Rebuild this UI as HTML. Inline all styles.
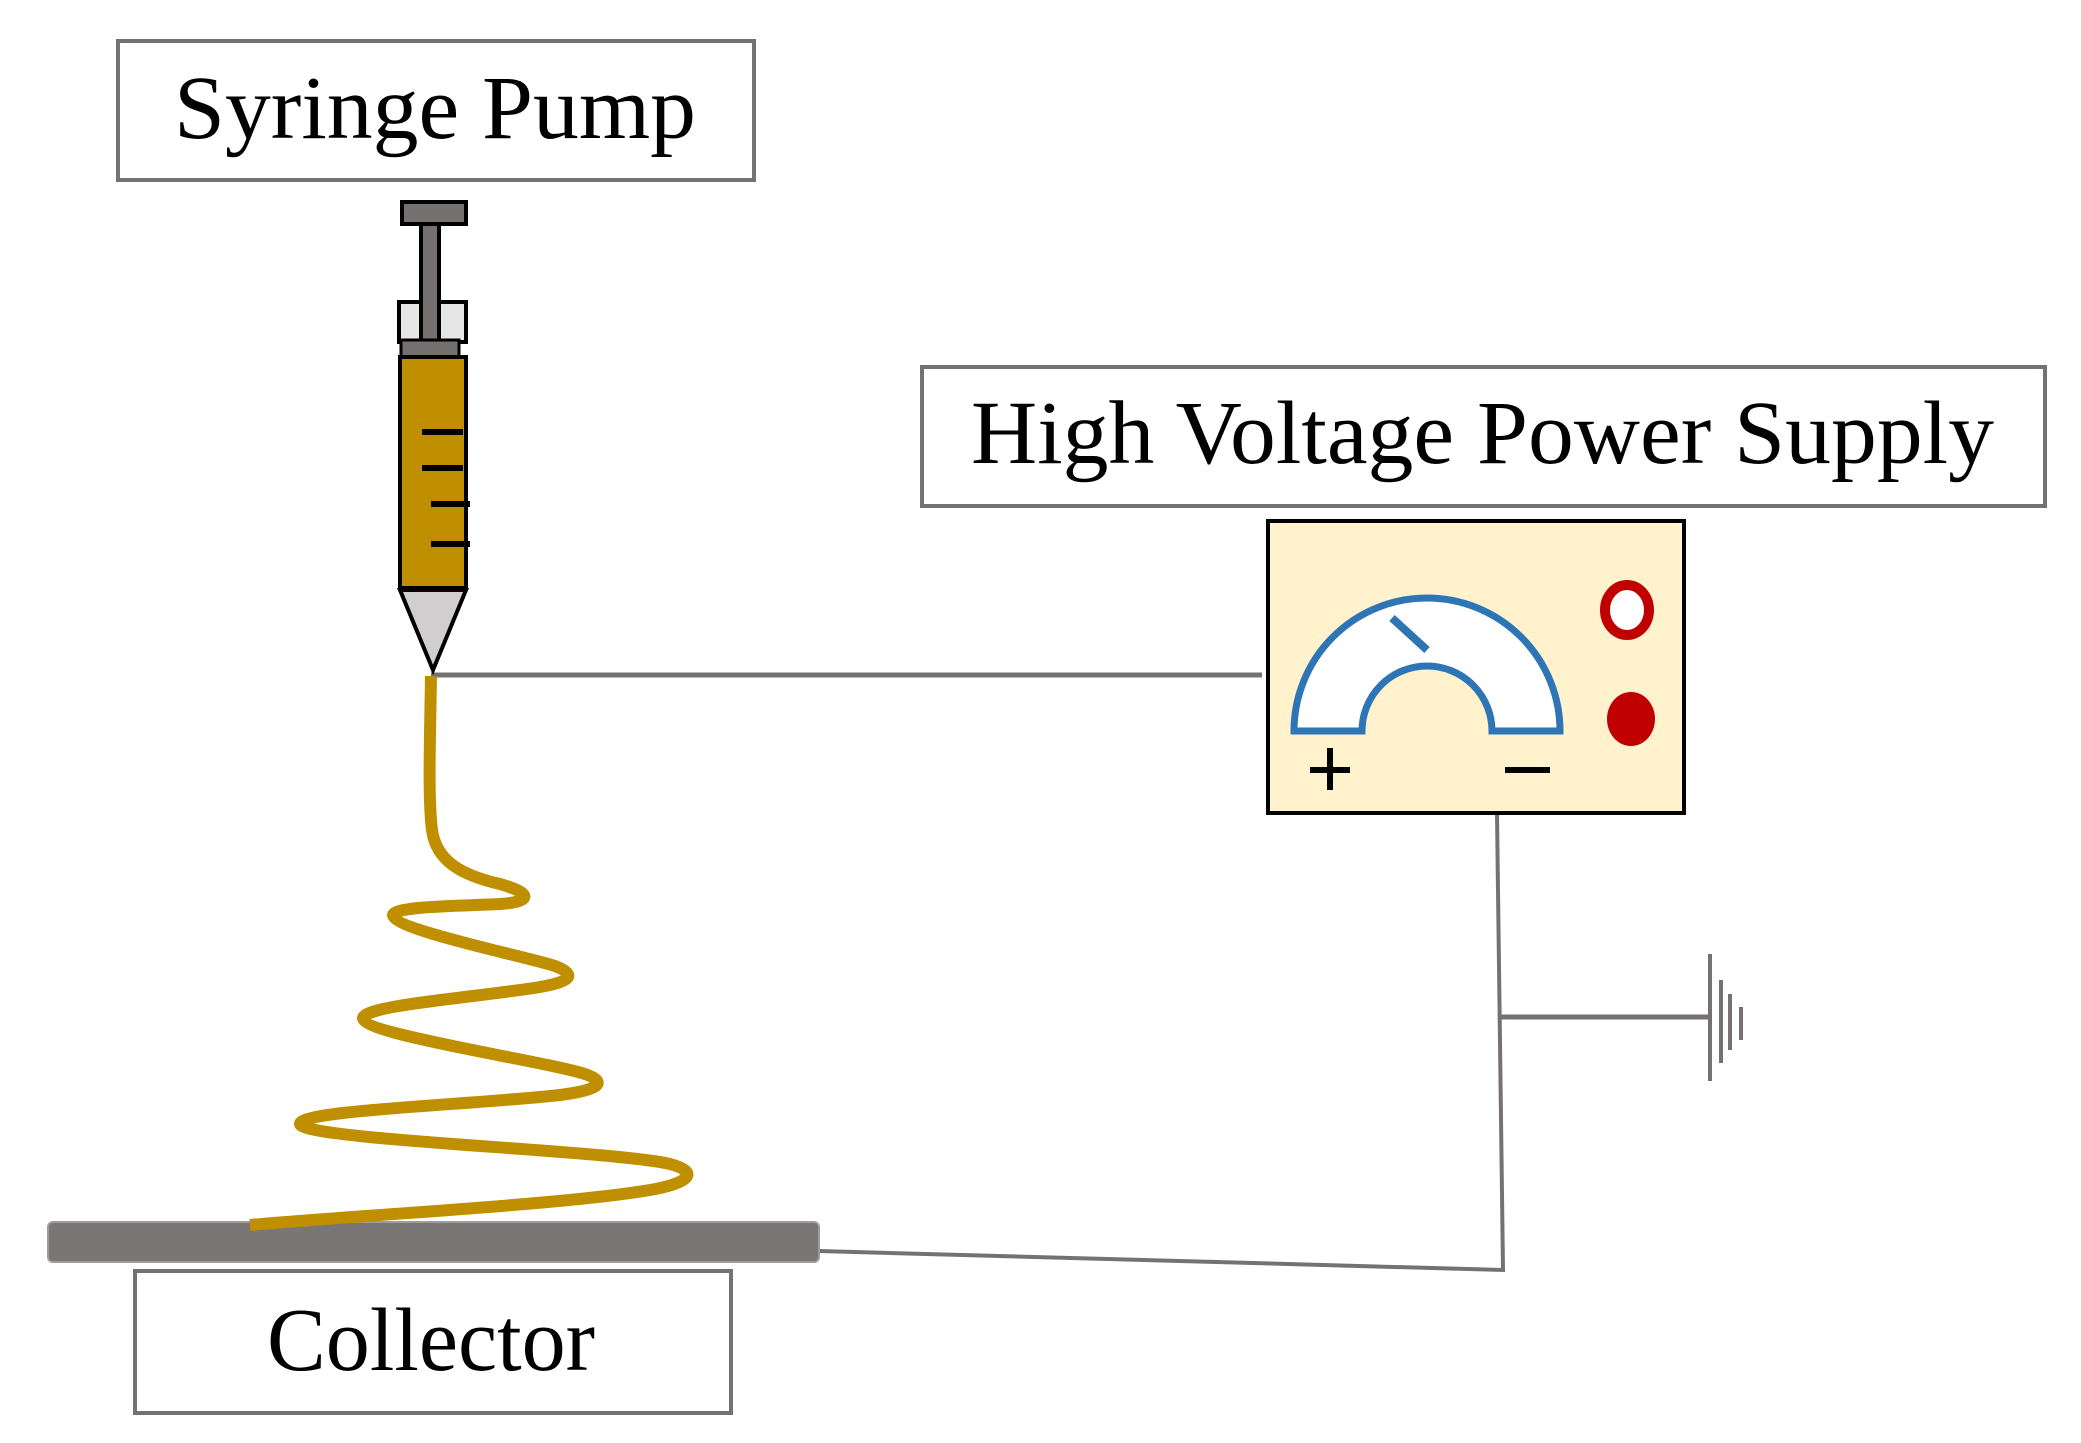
<!DOCTYPE html>
<html><head><meta charset="utf-8"><style>html,body{margin:0;padding:0;background:#fff}svg{display:block}</style></head>
<body>
<svg width="2081" height="1443" viewBox="0 0 2081 1443" xmlns="http://www.w3.org/2000/svg">
<rect x="0" y="0" width="2081" height="1443" fill="#fff"/>
<rect x="118" y="41" width="636" height="139" fill="#fff" stroke="#767171" stroke-width="4"/>
<text x="174" y="138" font-family="Liberation Serif, serif" font-size="90" textLength="522" lengthAdjust="spacingAndGlyphs" fill="#000">Syringe Pump</text>
<rect x="922" y="367" width="1123" height="139" fill="#fff" stroke="#767171" stroke-width="4"/>
<text x="971" y="463" font-family="Liberation Serif, serif" font-size="90" textLength="1023" lengthAdjust="spacingAndGlyphs" fill="#000">High Voltage Power Supply</text>
<rect x="135" y="1271" width="596" height="142" fill="#fff" stroke="#767171" stroke-width="4"/>
<text x="267" y="1370" font-family="Liberation Serif, serif" font-size="90" textLength="328" lengthAdjust="spacingAndGlyphs" fill="#000">Collector</text>
<line x1="431" y1="675" x2="1262" y2="675" stroke="#767171" stroke-width="5"/>
<polyline points="1497,814 1503,1270 819,1251" fill="none" stroke="#767171" stroke-width="4"/>
<line x1="1498" y1="1017" x2="1710" y2="1017" stroke="#767171" stroke-width="5"/>
<line x1="1710" y1="954" x2="1710" y2="1081" stroke="#767171" stroke-width="4"/>
<line x1="1721" y1="980" x2="1721" y2="1063" stroke="#767171" stroke-width="4"/>
<line x1="1730" y1="994" x2="1730" y2="1050" stroke="#767171" stroke-width="4"/>
<line x1="1741" y1="1007" x2="1741" y2="1040" stroke="#767171" stroke-width="4"/>
<rect x="48" y="1222" width="771" height="40" rx="5" fill="#7a7676" stroke="#a09c9c" stroke-width="2"/>
<rect x="402" y="202" width="64" height="22" fill="#767171" stroke="#000" stroke-width="4"/>
<rect x="399" y="302" width="67" height="40" fill="#e6e6e6" stroke="#000" stroke-width="4"/>
<rect x="421" y="224" width="18" height="118" fill="#767171" stroke="#000" stroke-width="4"/>
<rect x="401" y="340" width="58" height="18" fill="#767171" stroke="#000" stroke-width="3"/>
<rect x="400" y="357" width="66" height="231" fill="#bf8f00" stroke="#000" stroke-width="4"/>
<g stroke="#000" stroke-width="6"><line x1="422" y1="432" x2="463" y2="432"/><line x1="422" y1="468" x2="463" y2="468"/><line x1="431" y1="504" x2="470" y2="504"/><line x1="431" y1="544" x2="470" y2="544"/></g>
<polygon points="400,590 466,590 433,670" fill="#d0cece" stroke="#000" stroke-width="4"/>
<path d="M431,676 C430,740 428,800 432,830 C436,860 460,875 500,884 C535,894 530,902 500,904 C460,906 395,906 393,915 C395,930 520,955 555,966 C578,975 570,982 540,987 C480,997 365,1005 363,1018 C365,1035 540,1060 585,1074 C608,1082 600,1090 560,1095 C470,1105 300,1110 300,1124 C302,1140 610,1150 670,1164 C700,1172 690,1183 650,1190 C560,1205 360,1215 250,1225" fill="none" stroke="#bf8f00" stroke-width="12" stroke-linecap="butt"/>
<rect x="1268" y="521" width="416" height="292" fill="#fff2cc" stroke="#000" stroke-width="4"/>
<path d="M1294,731 A133,133 0 0 1 1560,731 L1492,731 A65,65 0 0 0 1362,731 Z" fill="#fff" stroke="#2e75b6" stroke-width="7"/>
<line x1="1392" y1="618" x2="1427" y2="650" stroke="#2e75b6" stroke-width="8"/>
<ellipse cx="1627" cy="610" rx="22" ry="25" fill="#fff" stroke="#c00000" stroke-width="10"/>
<ellipse cx="1631" cy="719" rx="24" ry="27" fill="#c00000"/>
<g stroke="#000" stroke-width="6"><line x1="1310" y1="770" x2="1350" y2="770"/><line x1="1330" y1="748" x2="1330" y2="790"/><line x1="1505" y1="770" x2="1550" y2="770"/></g>
</svg>
</body></html>
